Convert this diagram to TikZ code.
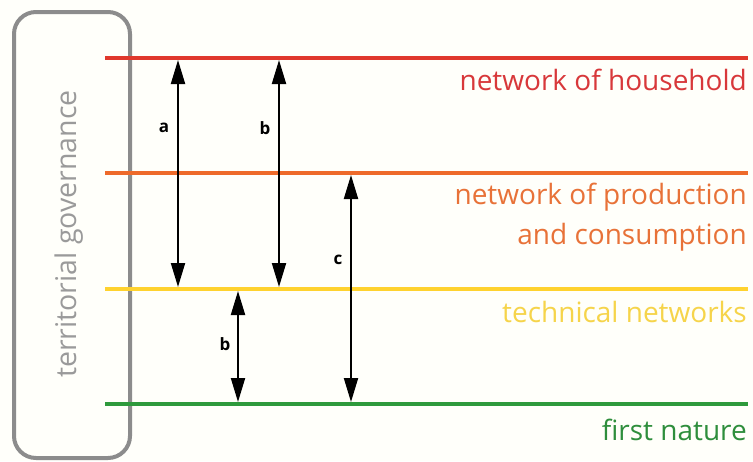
\documentclass[tikz,border=0pt]{standalone}
\usepackage{fontspec}
\setmainfont{Open Sans}
\usetikzlibrary{arrows.meta}
\definecolor{cRed}{HTML}{E0382C}
\definecolor{cOrange}{HTML}{EE6A2A}
\definecolor{cYellow}{HTML}{FFD22E}
\definecolor{cGreen}{HTML}{2E9A3C}
\definecolor{tRed}{HTML}{D8383A}
\definecolor{tOrange}{HTML}{E87238}
\definecolor{tYellow}{HTML}{F6D44A}
\definecolor{tGreen}{HTML}{2E8E3C}
\definecolor{boxGray}{HTML}{8C8C8C}
\definecolor{txtGray}{HTML}{9A9A9A}
\tikzset{
  level/.style={line width=4pt},
  levellabel/.style={anchor=east, inner sep=0pt, font=\fontsize{28}{33}\selectfont},
  span/.style={line width=2pt, {Triangle[length=24pt,width=14pt]}-{Triangle[length=24pt,width=14pt]}},
  spanlabel/.style={font=\fontsize{17}{20}\selectfont\bfseries, inner sep=0pt}
}
\begin{document}
\begin{tikzpicture}[x=1pt,y=-1pt]
  \useasboundingbox (0,0) rectangle (753,461);
  \fill[white!98!yellow] (0,0) rectangle (753,461);

  % governance frame
  \draw[boxGray, line width=4pt, rounded corners=22pt] (14,12) rectangle (130,458);
  \node[txtGray, rotate=90, font=\fontsize{28.5}{33}\selectfont, inner sep=0pt] (gov) at (69,234) {territorial governance};

  % level lines
  \coordinate (hhL) at (105,58);   \coordinate (hhR) at (748,58);
  \coordinate (pcL) at (105,173);  \coordinate (pcR) at (748,173);
  \coordinate (tnL) at (105,289);  \coordinate (tnR) at (748,289);
  \coordinate (fnL) at (105,404);  \coordinate (fnR) at (748,404);
  \draw[level, cRed] (hhL) -- (hhR);
  \draw[level, cOrange] (pcL) -- (pcR);
  \draw[level, cYellow] (tnL) -- (tnR);
  \draw[level, cGreen] (fnL) -- (fnR);

  % level labels
  \node[levellabel, tRed] (lhh) at (747,80) {network of household};
  \node[levellabel, tOrange] (lpc1) at (747,197) {network of production};
  \node[levellabel, tOrange] (lpc2) at (747,237) {and consumption};
  \node[levellabel, tYellow] (ltn) at (747,312) {technical networks};
  \node[levellabel, tGreen] (lfn) at (747,430) {first nature};

  % spans between levels
  \coordinate (a1) at (178,60);  \coordinate (a2) at (178,287);
  \coordinate (b1) at (279,60);  \coordinate (b2) at (279,287);
  \coordinate (c1) at (351,175); \coordinate (c2) at (351,402);
  \coordinate (d1) at (238,291); \coordinate (d2) at (238,402);
  \draw[span] (a1) -- (a2);
  \draw[span] (b1) -- (b2);
  \draw[span] (c1) -- (c2);
  \draw[span] (d1) -- (d2);
  \node[spanlabel] (la) at (164,128) {a};
  \node[spanlabel] (lb) at (265,128) {b};
  \node[spanlabel] (lc) at (338,260) {c};
  \node[spanlabel] (ld) at (225,344) {b};
\end{tikzpicture}
\end{document}
